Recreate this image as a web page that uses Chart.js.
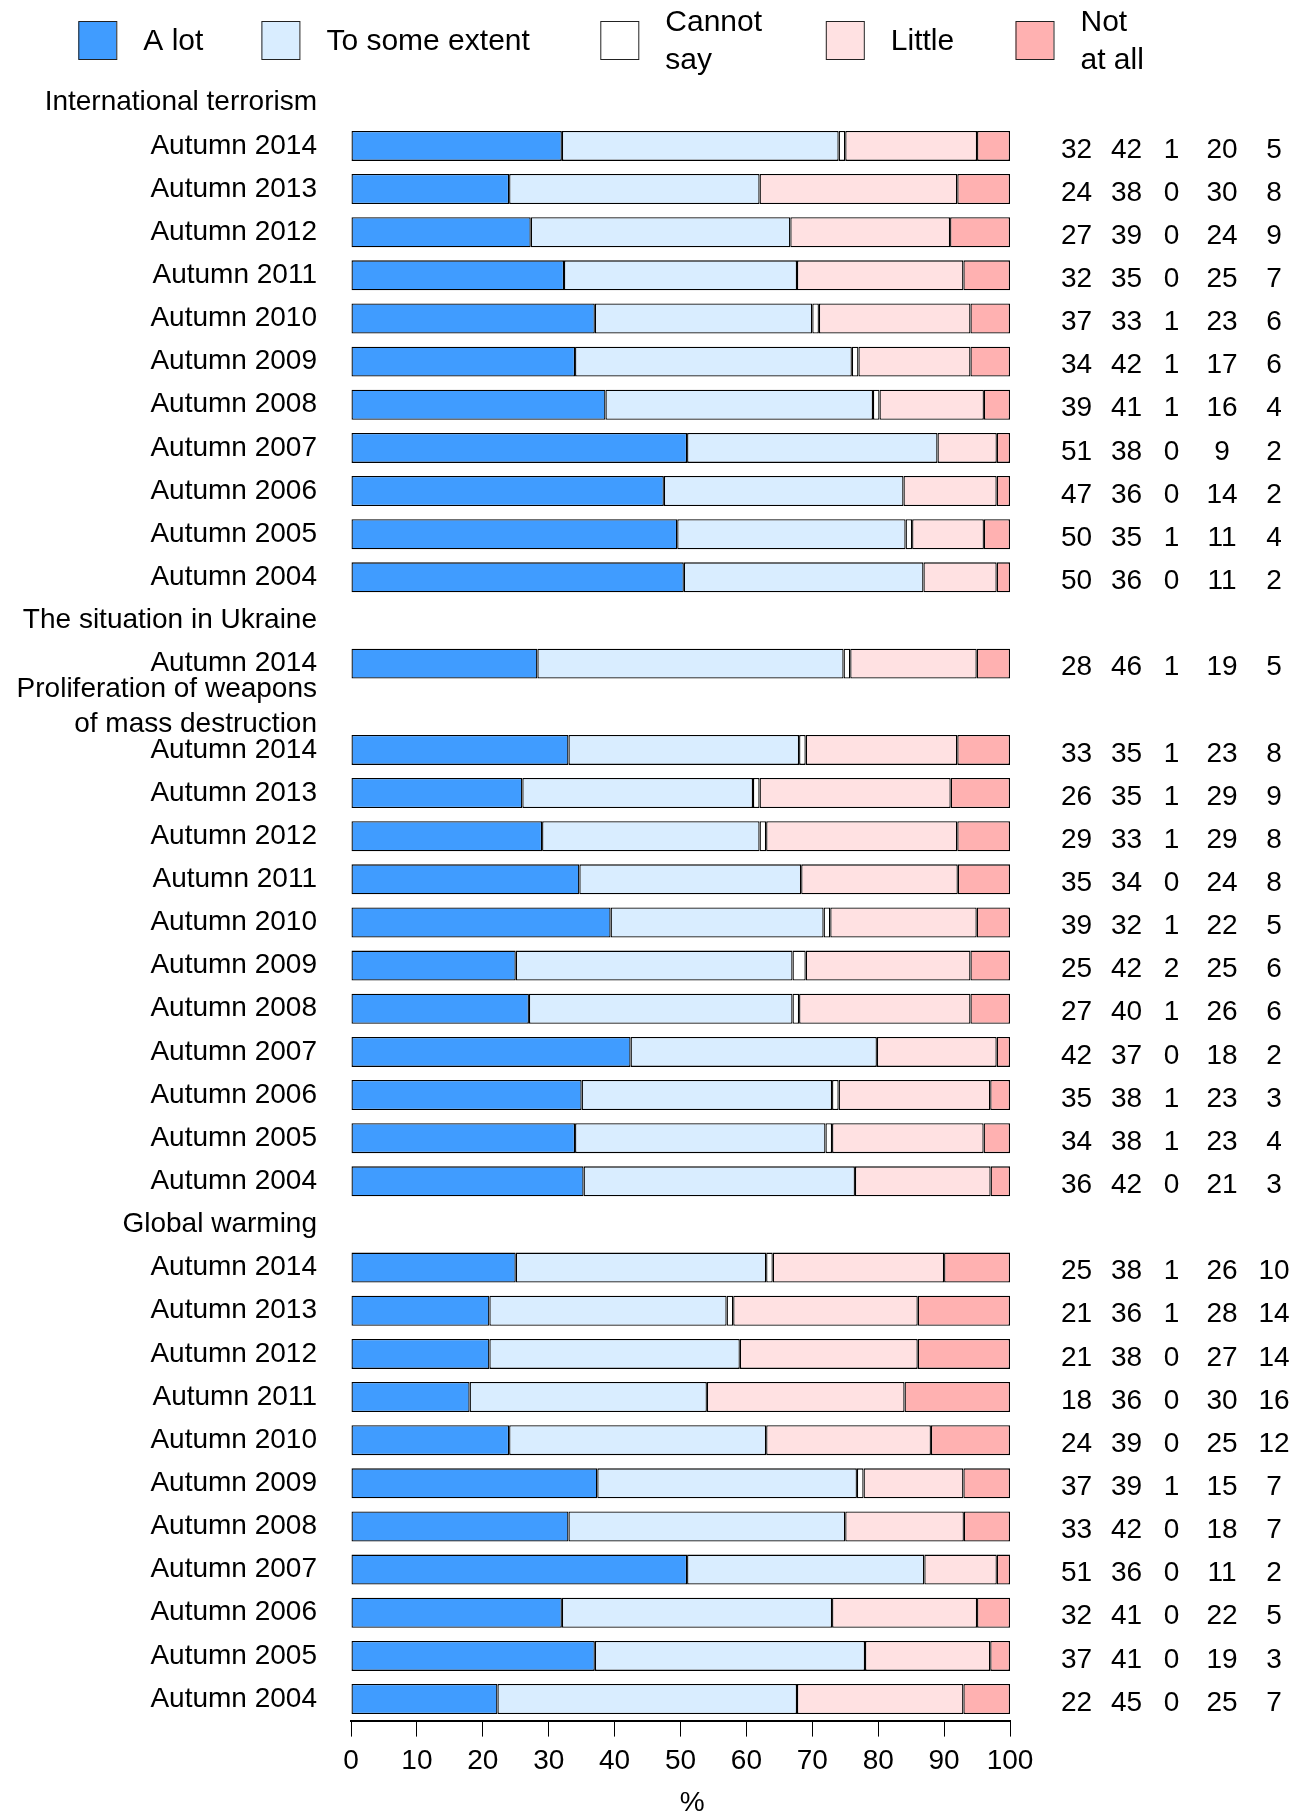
<!DOCTYPE html>
<html>
<head>
<meta charset="utf-8">
<script src="https://cdn.jsdelivr.net/npm/chart.js@4.4.0/dist/chart.umd.min.js"></script>
<style>
  body { margin: 0; background: #fff; }
  canvas { display: block; }
</style>
</head>
<body>
<canvas id="myChart" width="1307" height="1813"></canvas>
<script>
// answer categories (legend)
var seriesNames = ['A lot', 'To some extent', ['Cannot', 'say'], 'Little', ['Not', 'at all']];
var seriesColors = ['#409CFF', '#D9EDFF', '#FFFFFF', '#FFE1E2', '#FFB1B1'];

var years = ['Autumn 2014', 'Autumn 2013', 'Autumn 2012', 'Autumn 2011', 'Autumn 2010', 'Autumn 2009',
    'Autumn 2008', 'Autumn 2007', 'Autumn 2006', 'Autumn 2005', 'Autumn 2004'];
var ukraineYears = ['Autumn 2014'];

// each row: a lot, to some extent, cannot say, little, not at all (%)
var terrorism = [
    [32, 42, 1, 20, 5], [24, 38, 0, 30, 8], [27, 39, 0, 24, 9], [32, 35, 0, 25, 7],
    [37, 33, 1, 23, 6], [34, 42, 1, 17, 6], [39, 41, 1, 16, 4], [51, 38, 0, 9, 2],
    [47, 36, 0, 14, 2], [50, 35, 1, 11, 4], [50, 36, 0, 11, 2]
];
var ukraine = [
    [28, 46, 1, 19, 5]
];
var weapons = [
    [33, 35, 1, 23, 8], [26, 35, 1, 29, 9], [29, 33, 1, 29, 8], [35, 34, 0, 24, 8],
    [39, 32, 1, 22, 5], [25, 42, 2, 25, 6], [27, 40, 1, 26, 6], [42, 37, 0, 18, 2],
    [35, 38, 1, 23, 3], [34, 38, 1, 23, 4], [36, 42, 0, 21, 3]
];
var warming = [
    [25, 38, 1, 26, 10], [21, 36, 1, 28, 14], [21, 38, 0, 27, 14], [18, 36, 0, 30, 16],
    [24, 39, 0, 25, 12], [37, 39, 1, 15, 7], [33, 42, 0, 18, 7], [51, 36, 0, 11, 2],
    [32, 41, 0, 22, 5], [37, 41, 0, 19, 3], [22, 45, 0, 25, 7]
];

var xTicks = [0, 10, 20, 30, 40, 50, 60, 70, 80, 90, 100];

var groups = [
    { name: 'International terrorism', years: years, rows: terrorism },
    { name: 'The situation in Ukraine', years: ukraineYears, rows: ukraine },
    { name: ['Proliferation of weapons', 'of mass destruction'], years: years, rows: weapons },
    { name: 'Global warming', years: years, rows: warming }
];

// one category per line: group heading (empty) then its years
var labels = [];
var rows = [];
groups.forEach(function (g) {
    labels.push(g.name);
    rows.push(null);
    g.years.forEach(function (y, i) {
        labels.push(y);
        rows.push(g.rows[i]);
    });
});

// bars are drawn as shares of the row total so every bar reaches 100
var datasets = seriesNames.map(function (name, s) {
    return {
        label: Array.isArray(name) ? name.join(' ') : name,
        data: rows.map(function (r) {
            if (!r) return null;
            var sum = r.reduce(function (a, b) { return a + b; }, 0);
            return r[s] / sum * 100;
        }),
        backgroundColor: seriesColors[s],
        borderColor: '#000',
        borderWidth: 1.3,
        borderSkipped: false,
        inflateAmount: 0,
        barPercentage: 0.695,
        categoryPercentage: 1.0
    };
});

var FONT = "'Liberation Sans', Arial, sans-serif";

// legend at the top
var legendPlugin = {
    id: 'topLegend',
    afterDraw: function (chart) {
        var ctx = chart.ctx;
        var boxX = [78.3, 261.4, 600.3, 825.8, 1015.5];
        ctx.save();
        ctx.font = '30px ' + FONT;
        ctx.textAlign = 'left';
        ctx.textBaseline = 'middle';
        seriesNames.forEach(function (name, i) {
            ctx.fillStyle = seriesColors[i];
            ctx.fillRect(boxX[i], 21.5, 38, 38);
            ctx.strokeStyle = '#222';
            ctx.lineWidth = 1;
            ctx.strokeRect(boxX[i] + 0.5, 21.5, 38, 38);
            ctx.fillStyle = '#000';
            if (Array.isArray(name)) {
                ctx.fillText(name[0], boxX[i] + 65, 22.5);
                ctx.fillText(name[1], boxX[i] + 65, 60.5);
            } else {
                ctx.fillText(name, boxX[i] + 65, 41.5);
            }
        });
        ctx.restore();
    }
};

// the numbers printed to the right of each bar
var numbersPlugin = {
    id: 'rowNumbers',
    afterDatasetsDraw: function (chart) {
        var ctx = chart.ctx;
        var yScale = chart.scales.y;
        var offsets = [66.5, 116.5, 161.5, 212, 264];
        ctx.save();
        ctx.font = '28px ' + FONT;
        ctx.fillStyle = '#000';
        ctx.textAlign = 'center';
        ctx.textBaseline = 'middle';
        rows.forEach(function (r, i) {
            if (!r) return;
            var py = yScale.getPixelForValue(i) + 4;
            r.forEach(function (v, k) {
                ctx.fillText(String(v), chart.chartArea.right + offsets[k], py);
            });
        });
        ctx.restore();
    }
};

var ctx = document.getElementById('myChart').getContext('2d');
var chart = new Chart(ctx, {
    type: 'bar',
    data: {
        labels: labels,
        datasets: datasets
    },
    options: {
        indexAxis: 'y',
        responsive: false,
        animation: false,
        devicePixelRatio: 1,
        layout: {
            padding: { top: 81.2, right: 297, bottom: 0, left: 0 }
        },
        plugins: {
            legend: { display: false },
            tooltip: { enabled: false }
        },
        scales: {
            x: {
                stacked: true,
                min: 0,
                max: 100,
                afterBuildTicks: function (scale) {
                    scale.ticks = xTicks.map(function (v) { return { value: v }; });
                },
                afterFit: function (scale) { scale.height = 92.4; },
                grid: {
                    display: true,
                    drawOnChartArea: false,
                    drawTicks: true,
                    tickLength: 16,
                    color: '#000',
                    lineWidth: 1
                },
                border: { display: true, color: '#000', width: 2 },
                ticks: {
                    padding: 7.5,
                    color: '#000',
                    maxRotation: 0,
                    autoSkip: false,
                    font: { family: FONT, size: 28 }
                },
                title: {
                    display: true,
                    text: '   %',
                    color: '#000',
                    padding: 0,
                    font: { family: FONT, size: 28, lineHeight: 0.72 }
                }
            },
            y: {
                stacked: true,
                afterFit: function (scale) { scale.width = 351; },
                grid: { display: false, drawTicks: false },
                border: { display: false },
                ticks: {
                    padding: 34,
                    color: '#000',
                    autoSkip: false,
                    font: { family: FONT, size: 28, lineHeight: 1.24 }
                }
            }
        }
    },
    plugins: [legendPlugin, numbersPlugin]
});
</script>
</body>
</html>
